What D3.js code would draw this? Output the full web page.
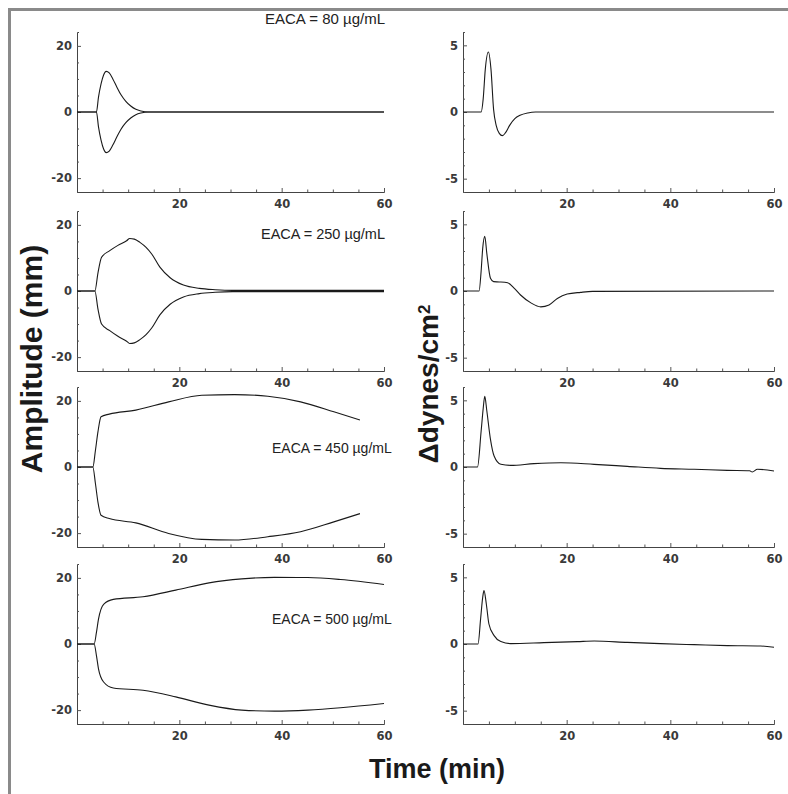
<!DOCTYPE html>
<html>
<head>
<meta charset="utf-8">
<script src="https://cdn.jsdelivr.net/npm/d3@7"></script>
<style>
  body { margin: 0; background: #fff; }
  svg { display: block; }
  .tick text { font-family: "DejaVu Sans", sans-serif; font-size: 11.5px; font-weight: bold; fill: #3a3a3a; }
</style>
</head>
<body>
<script>
// Tick labels
var timeTicks = [20, 40, 60];
var ampTicks = [-20, 0, 20];
var stressTicks = [-5, 0, 5];

var eacaLabels = [
  'EACA = 80 \u00b5g/mL',
  'EACA = 250 \u00b5g/mL',
  'EACA = 450 \u00b5g/mL',
  'EACA = 500 \u00b5g/mL'
];

// EACA = 80
var ampTime80 = [0, 3.8, 4.2, 4.7, 5.2, 5.7, 6.3, 7, 7.8, 8.6, 9.5, 10.5, 11.5, 12.5, 14, 60];
var ampUpper80 = [0, 0, 4.5, 8.5, 11.2, 12.3, 11.8, 10, 7.5, 5.2, 3.3, 1.8, 0.8, 0.3, 0, 0];
var ampLower80 = [0, 0, -4.5, -8.5, -11.2, -12.3, -11.8, -10, -7.5, -5.2, -3.3, -1.8, -0.8, -0.3, 0, 0];
var stressTime80 = [0, 3.5, 3.9, 4.3, 4.9, 5.4, 5.9, 6.4, 7, 7.6, 8.2, 9, 10, 11, 12.5, 14, 60];
var stress80 = [0, 0, 1.0, 3.2, 4.5, 3.2, 0.2, -1.0, -1.6, -1.77, -1.55, -1.0, -0.5, -0.25, -0.07, 0, 0];

// EACA = 250
var ampTime250 = [0, 3.5, 4.1, 4.8, 6.4, 8, 9.7, 10.3, 11.2, 12.3, 13.5, 14.6, 16.2, 18.2, 20.8, 23.9, 27, 30.4, 60];
var ampUpper250 = [0, 0, 5.5, 10.2, 12.2, 13.8, 15.2, 15.9, 15.7, 14.7, 13.2, 11.2, 7.2, 4.0, 1.8, 0.8, 0.4, 0.2, 0.2];
var ampLower250 = [0, 0, -5.5, -10, -12.0, -13.7, -15.2, -15.9, -15.7, -14.7, -13.2, -11.2, -7.2, -4.0, -1.8, -0.8, -0.4, -0.2, -0.2];
var stressTime250 = [0, 3.1, 3.5, 3.8, 4.2, 4.6, 5.3, 5.9, 7, 8.6, 9.9, 11.1, 13.1, 15, 16.6, 18.2, 20.1, 22.7, 25, 60];
var stress250 = [0, 0, 1.5, 3.2, 4.1, 2.8, 0.95, 0.7, 0.68, 0.62, 0.2, -0.3, -0.89, -1.19, -1.05, -0.56, -0.23, -0.1, -0.03, 0];

// EACA = 450
var ampTime450 = [0, 3.1, 3.6, 4.1, 4.7, 6.3, 11.5, 17.9, 24.4, 30.8, 37.3, 43.7, 50.2, 55.3];
var ampUpper450 = [0, 0, 5, 10.7, 15.2, 16.0, 17.2, 19.7, 21.7, 21.9, 21.4, 19.7, 16.7, 14.2];
var ampLower450 = [0, 0, -5, -10.7, -14.6, -15.6, -16.9, -20.1, -21.9, -22.1, -21.1, -19.6, -16.6, -14.1];
var stressTime450 = [0, 2.8, 3.5, 3.9, 4.2, 4.6, 5.3, 6.0, 7.3, 9.2, 13.7, 18.9, 25.3, 31.7, 38.1, 44.6, 51, 55.3, 55.8, 56.8, 60];
var stress450 = [0, 0, 2.7, 4.4, 5.3, 4.2, 2.07, 0.82, 0.2, 0.12, 0.25, 0.32, 0.2, 0.05, -0.1, -0.17, -0.25, -0.28, -0.37, -0.17, -0.3];

// EACA = 500
var ampTime500 = [0, 3.35, 3.8, 4.2, 5.2, 7.1, 12.9, 19.3, 25.8, 32.2, 38.6, 45.1, 51.5, 60];
var ampUpper500 = [0, 0, 3.5, 7.5, 12.0, 13.5, 14.3, 16.3, 18.5, 19.7, 20.15, 20.1, 19.5, 18.0];
var ampLower500 = [0, 0, -3.5, -7.5, -11.5, -13.3, -14.0, -16.0, -18.5, -20.0, -20.3, -20.0, -19.3, -18.0];
var stressTime500 = [0, 2.9, 3.4, 3.8, 4.05, 4.5, 5.0, 6.0, 7.3, 9.2, 15.6, 22.1, 25.3, 31.7, 38.1, 44.6, 51, 57.4, 60];
var stress500 = [0, 0, 1.9, 3.5, 4.0, 3.0, 1.5, 0.63, 0.18, 0.03, 0.1, 0.18, 0.22, 0.12, 0.03, -0.05, -0.12, -0.15, -0.25];

var rows = [
  { amp: [ampTime80, ampUpper80, ampLower80], stress: [stressTime80, stress80] },
  { amp: [ampTime250, ampUpper250, ampLower250], stress: [stressTime250, stress250] },
  { amp: [ampTime450, ampUpper450, ampLower450], stress: [stressTime450, stress450] },
  { amp: [ampTime500, ampUpper500, ampLower500], stress: [stressTime500, stress500] }
];

// panel placement
var width = 788,
    height = 794,
    rowTops = [32, 211, 387, 564],
    rowH = 160;

var svg = d3.select("body")
  .append("svg")
    .attr("width", width)
    .attr("height", height);

// grey frame on left and top
svg.append("path")
  .attr("d", "M9.5," + height + "V9.5H" + width)
  .attr("fill", "none")
  .attr("stroke", "#8a8a8a")
  .attr("stroke-width", 3);

function zip(xs, ys) {
  return xs.map(function(x, i) { return [x, ys[i]]; });
}

function drawPanel(x0, x1, top, yMax, yTicks, minorStep, series) {
  var x = d3.scaleLinear().domain([0, 60]).range([x0, x1]);
  var y = d3.scaleLinear().domain([-yMax, yMax]).range([top + rowH, top]);

  var g = svg.append("g");

  // bottom axis: minor ticks every 5, labels at 20/40/60
  var xAxis = d3.axisBottom(x)
    .tickValues(d3.range(5, 61, 5))
    .tickSizeOuter(0)
    .tickSize(-3)
    .tickPadding(8)
    .tickFormat(function(d) { return timeTicks.indexOf(d) >= 0 ? d : ''; });

  var xg = g.append("g")
    .attr("transform", "translate(0," + (top + rowH) + ")")
    .call(xAxis);
  xg.selectAll(".tick line").attr("y2", function(d) { return timeTicks.indexOf(d) >= 0 ? -4 : -2.5; });

  var minors = d3.range(-Math.floor(yMax / minorStep) * minorStep, yMax + 0.001, minorStep);
  var yAxis = d3.axisLeft(y)
    .tickValues(minors)
    .tickSizeOuter(0)
    .tickSize(-2)
    .tickPadding(5)
    .tickFormat(function(d) { return yTicks.indexOf(d) >= 0 ? d : ''; });

  var yg = g.append("g")
    .attr("transform", "translate(" + x0 + ",0)")
    .call(yAxis);
  yg.selectAll(".tick line").attr("x2", function(d) { return yTicks.indexOf(d) >= 0 ? 4 : 2; });

  g.selectAll(".domain").attr("stroke", "#444");
  g.selectAll(".tick line").attr("stroke", "#555");

  var line = d3.line()
    .x(function(d) { return x(d[0]); })
    .y(function(d) { return y(d[1]); })
    .curve(d3.curveMonotoneX);

  series.forEach(function(s) {
    g.append("path")
      .datum(s)
      .attr("d", line)
      .attr("fill", "none")
      .attr("stroke", "#1a1a1a")
      .attr("stroke-width", 1.1);
  });
}

rows.forEach(function(r, i) {
  var top = rowTops[i];
  drawPanel(77, 384, top, 24.2, ampTicks, 5, [zip(r.amp[0], r.amp[1]), zip(r.amp[0], r.amp[2])]);
  drawPanel(463, 774, top, 6, stressTicks, 1, [zip(r.stress[0], r.stress[1])]);
});

// concentration notes
var notePos = [
  { x: 385, y: 23.5, anchor: "end", size: 15 },
  { x: 385, y: 238.5, anchor: "end", size: 14.5 },
  { x: 272, y: 452.5, anchor: "start", size: 14 },
  { x: 272, y: 624, anchor: "start", size: 14 }
];
eacaLabels.forEach(function(t, i) {
  svg.append("text")
    .attr("x", notePos[i].x)
    .attr("y", notePos[i].y)
    .attr("text-anchor", notePos[i].anchor)
    .style("font-family", "Liberation Sans, Arial, sans-serif")
    .style("font-size", notePos[i].size + "px")
    .attr("fill", "#222")
    .text(t);
});

// axis titles
svg.append("text")
  .attr("transform", "translate(42,359)rotate(-90)")
  .attr("text-anchor", "middle")
  .style("font-family", "Liberation Sans, Arial, sans-serif")
  .style("font-weight", "bold")
  .style("font-size", "30px")
  .attr("fill", "#1a1a1a")
  .text("Amplitude (mm)");

var st = svg.append("text")
  .attr("transform", "translate(438,384)rotate(-90)")
  .attr("text-anchor", "middle")
  .style("font-family", "Liberation Sans, Arial, sans-serif")
  .style("font-weight", "bold")
  .style("font-size", "28px")
  .attr("fill", "#1a1a1a");
st.append("tspan").text("\u0394dynes/cm");
st.append("tspan").attr("dy", "-0.45em").style("font-size", "17px").text("2");

svg.append("text")
  .attr("x", 437)
  .attr("y", 778)
  .attr("text-anchor", "middle")
  .style("font-family", "Liberation Sans, Arial, sans-serif")
  .style("font-weight", "bold")
  .style("font-size", "27px")
  .attr("fill", "#1a1a1a")
  .text("Time (min)");
</script>
</body>
</html>
